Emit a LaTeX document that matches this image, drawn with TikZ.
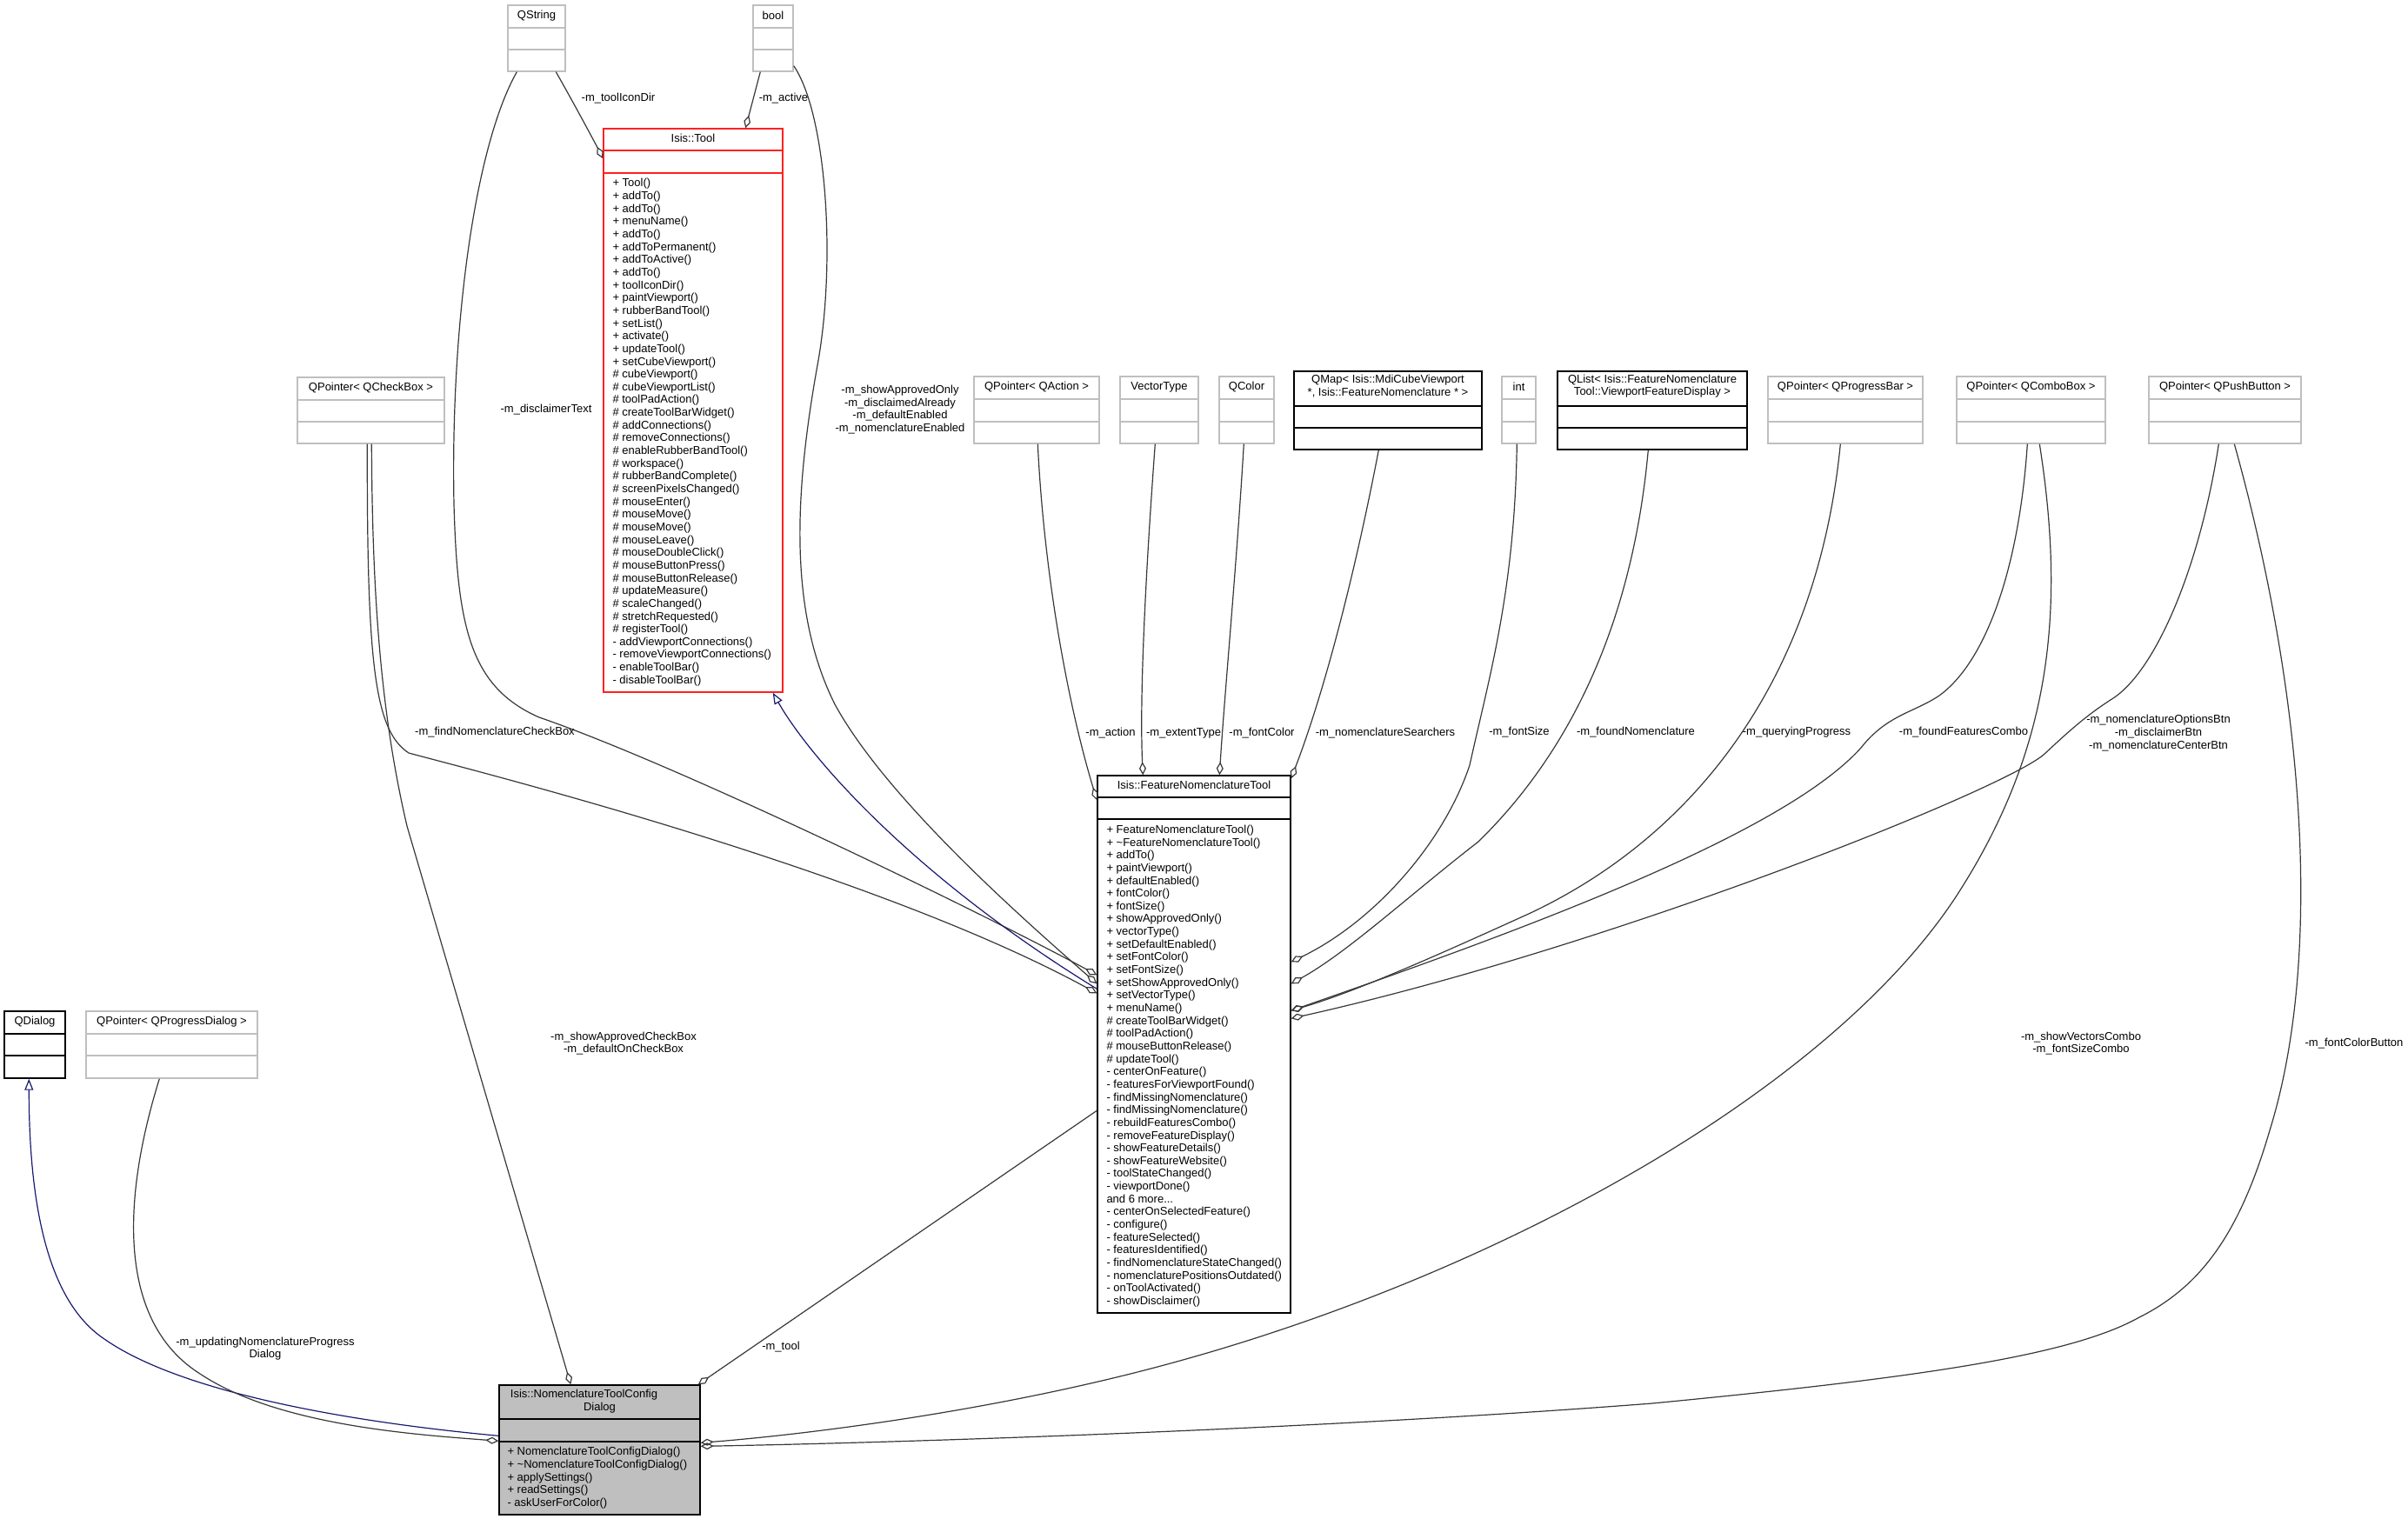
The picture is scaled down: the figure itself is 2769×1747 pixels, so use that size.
\documentclass[tikz,border=0pt]{standalone}
\usepackage{fontspec}
\setmainfont{Liberation Sans}
\usetikzlibrary{arrows.meta, calc, positioning}

\definecolor{edgegray}{HTML}{383838}
\definecolor{boxgray}{HTML}{BFBFBF}
\definecolor{inheritblue}{HTML}{191970}
\definecolor{toolred}{HTML}{FF2020}

\newcommand{\umlfont}{\fontsize{13}{14.65}\selectfont}

\tikzset{
  umlbox/.style={rectangle, draw, line width=1.4pt, inner sep=0pt},
  head/.style={inner sep=0pt, align=center, font=\umlfont},
  members/.style={anchor=north west, inner sep=0pt, align=left, font=\umlfont},
  lbl/.style={inner sep=0pt, align=center, font=\umlfont},
  aggr/.style={draw=edgegray, line width=1.2pt, -{Diamond[open, length=15pt, width=8pt]}},
  inherit/.style={draw=inheritblue, line width=1.2pt, {Triangle[open, length=13pt, width=10pt]}-},
}

% class box: name, border, fill, left, top, right, bottom, divider 1, divider 2
\newcommand{\umlclass}[9]{%
  \node[umlbox, draw=#2, fill=#3, minimum width={#6-#4}, minimum height={#7-#5}]
    (#1) at ({(#4+#6)/2},{(#5+#7)/2}) {};
  \draw[line width=1.4pt, #2] (#4,#8) -- (#6,#8) (#4,#9) -- (#6,#9);
}

\begin{document}
\begin{tikzpicture}[x=1pt, y=-1pt]
    \useasboundingbox (0,0) rectangle (2769,1747);

    % Các lớp phía trên
    \umlclass{qstring}{boxgray}{white}{584}{6}{650}{82}{32}{57}
    \node[head] (qstring-h) at ($(qstring.north)+(0,13)$) {QString};
    \umlclass{boolbox}{boxgray}{white}{866}{6}{912}{82}{32}{57}
    \node[head] (boolbox-h) at ($(boolbox.north)+(0,13)$) {bool};

    % Isis::Tool
    \umlclass{tool}{toolred}{white}{694}{148}{900}{796}{173}{199}
    \node[head] (tool-h) at ($(tool.north)+(0,12)$) {Isis::Tool};
    \node[members] (tool-m) at ($(tool.north west)+(11,58)$) {%
        + Tool()\\ + addTo()\\ + addTo()\\ + menuName()\\ + addTo()\\
        + addToPermanent()\\ + addToActive()\\ + addTo()\\ + toolIconDir()\\
        + paintViewport()\\ + rubberBandTool()\\ + setList()\\ + activate()\\
        + updateTool()\\ + setCubeViewport()\\ \# cubeViewport()\\
        \# cubeViewportList()\\ \# toolPadAction()\\ \# createToolBarWidget()\\
        \# addConnections()\\ \# removeConnections()\\ \# enableRubberBandTool()\\
        \# workspace()\\ \# rubberBandComplete()\\ \# screenPixelsChanged()\\
        \# mouseEnter()\\ \# mouseMove()\\ \# mouseMove()\\ \# mouseLeave()\\
        \# mouseDoubleClick()\\ \# mouseButtonPress()\\ \# mouseButtonRelease()\\
        \# updateMeasure()\\ \# scaleChanged()\\ \# stretchRequested()\\
        \# registerTool()\\ - addViewportConnections()\\
        - removeViewportConnections()\\ - enableToolBar()\\ - disableToolBar()};

    % Hàng giữa
    \umlclass{qcheckbox}{boxgray}{white}{342}{434}{511}{510}{460}{485}
    \node[head] (qcheckbox-h) at ($(qcheckbox.north)+(0,13)$) {QPointer< QCheckBox >};
    \foreach \nm/\lft/\rgt/\txt in {qaction/1120/1264/{QPointer< QAction >},
        vectortype/1288/1378/VectorType, qcolor/1402/1465/QColor, intbox/1727/1766/int,
        qprogressbar/2033/2211/{QPointer< QProgressBar >},
        qcombobox/2250/2421/{QPointer< QComboBox >},
        qpushbutton/2471/2646/{QPointer< QPushButton >}} {
        \umlclass{\nm}{boxgray}{white}{\lft}{433}{\rgt}{510}{459}{485}
        \node[head] (\nm-h) at ($(\nm.north)+(0,13)$) {\txt};
    }
    \umlclass{qmap}{black}{white}{1488}{427}{1704}{517}{467}{492}
    \node[head] (qmap-h) at ($(qmap.north)+(0,18)$) {QMap< Isis::MdiCubeViewport\\ *, Isis::FeatureNomenclature * >};
    \umlclass{qlist}{black}{white}{1791}{427}{2009}{517}{467}{492}
    \node[head] (qlist-h) at ($(qlist.north)+(0,18)$) {QList< Isis::FeatureNomenclature\\Tool::ViewportFeatureDisplay >};

    % Isis::FeatureNomenclatureTool
    \umlclass{fnt}{black}{white}{1262}{892}{1484}{1510}{917}{942}
    \node[head] (fnt-h) at ($(fnt.north)+(0,12)$) {Isis::FeatureNomenclatureTool};
    \node[members] (fnt-m) at ($(fnt.north west)+(11,57.5)$) {%
        + FeatureNomenclatureTool()\\ + \textasciitilde FeatureNomenclatureTool()\\
        + addTo()\\ + paintViewport()\\ + defaultEnabled()\\ + fontColor()\\
        + fontSize()\\ + showApprovedOnly()\\ + vectorType()\\ + setDefaultEnabled()\\
        + setFontColor()\\ + setFontSize()\\ + setShowApprovedOnly()\\
        + setVectorType()\\ + menuName()\\ \# createToolBarWidget()\\
        \# toolPadAction()\\ \# mouseButtonRelease()\\ \# updateTool()\\
        - centerOnFeature()\\ - featuresForViewportFound()\\
        - findMissingNomenclature()\\ - findMissingNomenclature()\\
        - rebuildFeaturesCombo()\\ - removeFeatureDisplay()\\
        - showFeatureDetails()\\ - showFeatureWebsite()\\ - toolStateChanged()\\
        - viewportDone()\\ and 6 more...\\ - centerOnSelectedFeature()\\
        - configure()\\ - featureSelected()\\ - featuresIdentified()\\
        - findNomenclatureStateChanged()\\ - nomenclaturePositionsOutdated()\\
        - onToolActivated()\\ - showDisclaimer()};

    % Hàng dưới
    \umlclass{qdialog}{black}{white}{5}{1163}{75}{1240}{1189}{1214}
    \node[head] (qdialog-h) at ($(qdialog.north)+(0,13)$) {QDialog};
    \umlclass{qprogressdialog}{boxgray}{white}{99}{1163}{296}{1240}{1189}{1214}
    \node[head] (qprogressdialog-h) at ($(qprogressdialog.north)+(0,13)$) {QPointer< QProgressDialog >};
    \umlclass{configdlg}{black}{boxgray}{574}{1593}{805}{1742}{1632}{1658}
    \node[head] (configdlg-h) at ($(configdlg.north)+(0,19)$) {Isis::NomenclatureToolConfig\hspace*{36pt}\\Dialog};
    \node[members] (configdlg-m) at ($(configdlg.north west)+(10,72)$) {%
        + NomenclatureToolConfigDialog()\\ + \textasciitilde NomenclatureToolConfigDialog()\\
        + applySettings()\\ + readSettings()\\ - askUserForColor()};

    % Quan hệ với Isis::Tool
    \draw[aggr] ($(qstring.south west)+(56,0)$) .. controls +(20,35) and +(-8,-16) .. ($(tool.north west)+(0,35)$);
    \draw[aggr] ($(boolbox.south west)+(9,0)$) -- ($(tool.north west)+(164,0)$);

    % Quan hệ với Isis::FeatureNomenclatureTool (bên trái)
    \draw[aggr] ($(qstring.south west)+(11,0)$) .. controls (545,170) and (518,380) .. (522,580)
        .. controls (526,720) and (540,790) .. (620,825)
        .. controls (780,880) and (1130,1050) .. ($(fnt.north west)+(0,230)$);
    \draw[aggr] ($(boolbox.south east)+(0,-7)$) .. controls (950,130) and (962,300) .. (940,420)
        .. controls (915,560) and (905,700) .. (960,810)
        .. controls (1020,920) and (1180,1060) .. ($(fnt.north west)+(0,240)$);
    \draw[aggr] ($(qcheckbox.south west)+(81,0)$) .. controls (422,760) and (430,840) .. (470,866)
        .. controls (540,885) and (1000,1000) .. ($(fnt.north west)+(0,251)$);
    \draw[inherit] ($(tool.south east)+(-12,0)$) .. controls +(42,74) and +(-212,-130) .. ($(fnt.north west)+(0,246)$);

    % Quan hệ với Isis::FeatureNomenclatureTool (phía trên)
    \draw[aggr] ($(qaction.south west)+(74,0)$) .. controls (1200,650) and (1225,800) .. ($(fnt.north west)+(0,29)$);
    \draw[aggr] ($(vectortype.south west)+(41,0)$) .. controls (1318,650) and (1310,800) .. ($(fnt.north west)+(53,0)$);
    \draw[aggr] ($(qcolor.south west)+(29,0)$) .. controls (1422,650) and (1408,800) .. ($(fnt.north west)+(141,0)$);
    \draw[aggr] ($(qmap.south west)+(98,0)$) .. controls (1560,650) and (1525,790) .. ($(fnt.north east)+(0,4)$);

    % Quan hệ với Isis::FeatureNomenclatureTool (bên phải)
    \draw[aggr] ($(intbox.south west)+(18,0)$) .. controls (1742,680) and (1712,780) .. (1690,880)
        .. controls (1660,970) and (1580,1060) .. ($(fnt.north east)+(0,215)$);
    \draw[aggr] ($(qlist.south west)+(105,0)$) .. controls (1875,740) and (1790,880) .. (1700,968)
        .. controls (1620,1030) and (1550,1095) .. ($(fnt.north east)+(0,240)$);
    \draw[aggr] ($(qprogressbar.south west)+(84,0)$) .. controls (2090,780) and (1950,960) .. (1760,1050)
        .. controls (1650,1100) and (1560,1140) .. ($(fnt.north east)+(0,271)$);
    \draw[aggr] ($(qcombobox.south west)+(82,0)$) .. controls (2322,650) and (2285,760) .. (2230,800)
        .. controls (2200,820) and (2170,822) .. (2140,860)
        .. controls (2050,960) and (1750,1070) .. ($(fnt.north east)+(0,271)$);
    \draw[aggr] ($(qpushbutton.south west)+(81,0)$) .. controls (2530,650) and (2480,770) .. (2430,803)
        .. controls (2400,822) and (2380,840) .. (2350,868)
        .. controls (2300,910) and (1850,1090) .. ($(fnt.north east)+(0,280)$);

    % Quan hệ với Isis::NomenclatureToolConfigDialog
    \draw[inherit] ($(qdialog.south west)+(29,0)$) .. controls +(0,160) and (60,1500) .. (120,1540)
        .. controls (220,1610) and (450,1640) .. ($(configdlg.north west)+(0,59)$);
    \draw[aggr] ($(qprogressdialog.south west)+(85,0)$) .. controls (140,1380) and (135,1520) .. (230,1580)
        .. controls (320,1640) and (480,1650) .. ($(configdlg.north west)+(0,65)$);
    \draw[aggr] ($(qcheckbox.south west)+(86,0)$) .. controls (428,700) and (440,830) .. (468,950)
        -- ($(configdlg.north west)+(83,0)$);
    \draw[aggr] ($(fnt.north west)+(0,386)$) -- ($(configdlg.north east)+(-3,0)$);
    \draw[aggr] ($(qcombobox.south west)+(96,0)$) .. controls (2375,700) and (2360,860) .. (2250,1030)
        .. controls (2100,1260) and (1700,1480) .. (1300,1580)
        .. controls (1100,1630) and (900,1652) .. ($(configdlg.north east)+(0,67)$);
    \draw[aggr] ($(qpushbutton.south west)+(99,0)$) .. controls (2650,800) and (2672,1100) .. (2610,1300)
        .. controls (2575,1420) and (2530,1480) .. (2460,1515)
        .. controls (2380,1560) and (2200,1585) .. (1900,1614)
        .. controls (1500,1645) and (1000,1660) .. ($(configdlg.north east)+(0,71)$);

    % Nhãn
    \node[lbl] (l-toolicondir) at (711,113) {-m\_toolIconDir};
    \node[lbl] (l-active) at (901,113) {-m\_active};
    \node[lbl] (l-disclaimertext) at (628,471) {-m\_disclaimerText};
    \node[lbl] (l-flags) at (1035,471) {-m\_showApprovedOnly\\-m\_disclaimedAlready\\-m\_defaultEnabled\\-m\_nomenclatureEnabled};
    \node[lbl] (l-findcheck) at (569,842) {-m\_findNomenclatureCheckBox};
    \node[lbl] (l-action) at (1277,843) {-m\_action};
    \node[lbl] (l-extent) at (1361,843) {-m\_extentType};
    \node[lbl] (l-fontcolor) at (1451,843) {-m\_fontColor};
    \node[lbl] (l-searchers) at (1593,843) {-m\_nomenclatureSearchers};
    \node[lbl] (l-fontsize) at (1747,842) {-m\_fontSize};
    \node[lbl] (l-found) at (1881,842) {-m\_foundNomenclature};
    \node[lbl] (l-querying) at (2066,842) {-m\_queryingProgress};
    \node[lbl] (l-foundcombo) at (2258,842) {-m\_foundFeaturesCombo};
    \node[lbl] (l-btns) at (2482,843) {-m\_nomenclatureOptionsBtn\\-m\_disclaimerBtn\\-m\_nomenclatureCenterBtn};
    \node[lbl] (l-checkboxes) at (717,1200) {-m\_showApprovedCheckBox\\-m\_defaultOnCheckBox};
    \node[lbl] (l-progress) at (305,1551) {-m\_updatingNomenclatureProgress\\Dialog};
    \node[lbl] (l-tool) at (898,1549) {-m\_tool};
    \node[lbl] (l-combos) at (2393,1200) {-m\_showVectorsCombo\\-m\_fontSizeCombo};
    \node[lbl] (l-colorbtn) at (2707,1200) {-m\_fontColorButton};
\end{tikzpicture}
\end{document}
